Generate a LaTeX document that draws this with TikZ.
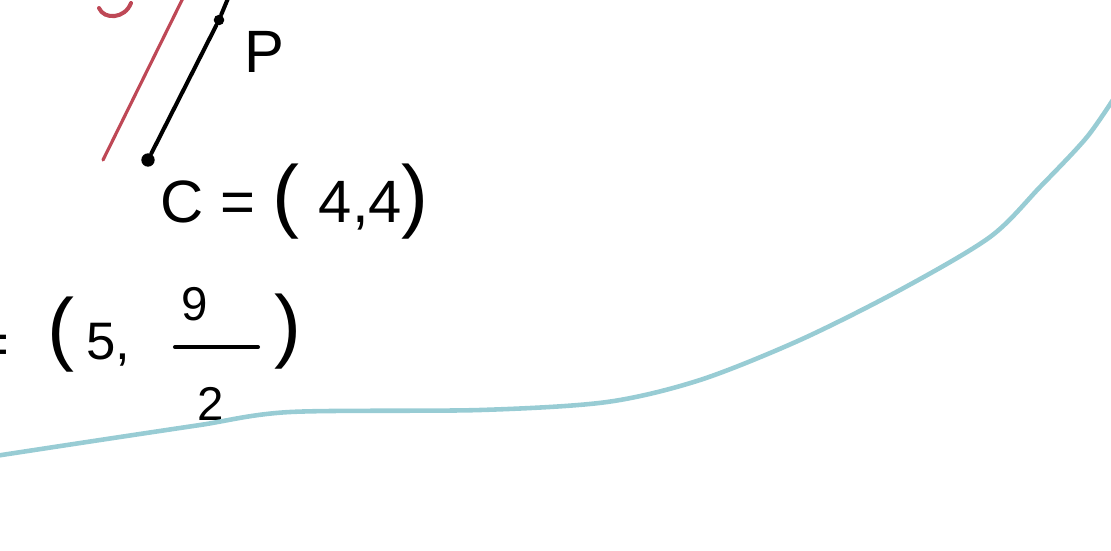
\documentclass[tikz,border=0pt]{standalone}
\usepackage{fontspec}
\setmainfont{Liberation Sans}
\usetikzlibrary{positioning}
\definecolor{sketchred}{RGB}{190,72,86}
\definecolor{sketchblue}{RGB}{152,204,212}
\newcommand{\tallpar}[1]{{\fontsize{23}{23}\selectfont #1}}

\begin{document}
\begin{tikzpicture}[
  x=0.01cm, y=-0.01cm,
  pen/.style={line width=1.15pt, line cap=round},
  dot/.style={circle, fill, inner sep=0pt, minimum size=3pt},
  hand/.style={font=\fontsize{17}{20}\selectfont, inner sep=0pt},
  small/.style={font=\fontsize{13.5}{16}\selectfont, inner sep=0pt}
]
\useasboundingbox (0,0) rectangle (1111,550);
\clip (0,0) rectangle (1111,550);

% red line with the tail of its label
\coordinate (r1) at (103,160);
\coordinate (r2) at (184,-4);
\draw[sketchred, line width=0.9pt, line cap=round] (r1) -- (r2);
\draw[sketchred, pen] (99,8) .. controls (104,20) and (125,19) .. (131,3);

% segment from C to P
\node[dot, minimum size=3.8pt] (c) at (148,160) {};
\node[dot] (p) at (219,20) {};
\coordinate (top) at (229,-4);
\draw[pen] (c) -- (p) -- (top);

\node[hand] (plabel) at (264,52) {P};
\node[hand, anchor=west] (clabel) at (160,202)
  {C = \tallpar{(}\,\,4,4\tallpar{)}};

% midpoint
\node[hand] (eq) at (-8,350) {=};
\node[hand] (lpar) at (61,335) {\tallpar{(}};
\node[font=\fontsize{15}{18}\selectfont, inner sep=0pt] (five) at (108,345) {5,};
\node[small] (num) at (195,304) {9};
\node[small] (den) at (211,404) {2};
\coordinate (barl) at (175,347);
\coordinate (barr) at (258,347);
\draw[pen] (barl) -- (barr);
\node[hand] (rpar) at (288,332) {\tallpar{)}};

% blue curve
\draw[sketchblue, line width=1.3pt, line cap=round] plot[smooth] coordinates
  {(-5,456) (100,440) (200,425) (290,412) (480,410) (607,402) (700,380)
   (800,340) (900,290) (990,237) (1040,187) (1087,137) (1118,92)};
\end{tikzpicture}
\end{document}
